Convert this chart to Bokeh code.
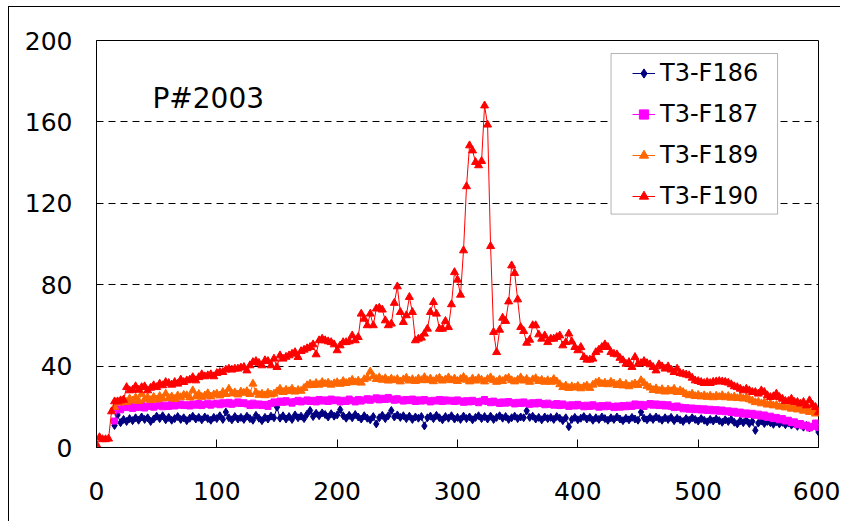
import numpy as np
from bokeh.plotting import figure
from bokeh.models import Range1d, FixedTicker, Legend, LegendItem, Label, BoxAnnotation
from bokeh.embed import file_html
from bokeh.resources import INLINE

# ---------------- data ----------------
X_START = 0.0
X_STEP = 2.5

x_ticks = [0, 100, 200, 300, 400, 500, 600]
y_ticks = [0, 40, 80, 120, 160, 200]

series_names = ["T3-F186", "T3-F187", "T3-F189", "T3-F190"]

f190 = [
    1.5, 5, 4, 4, 4.3, 17.7, 22.6, 22.6, 23.1, 23.4,
    29.6, 28, 28.3, 30, 28.3, 29.6, 30, 28, 29.3, 30.5,
    29.6, 31.3, 30.5, 32.1, 31.6, 30.8, 32.1, 31.3, 33.3, 32.1,
    32.9, 33.3, 34.5, 32.9, 34.5, 35.9, 34.9, 35.4, 35.9, 34.9,
    36.5, 37, 37, 38.2, 38.7, 38.2, 38.7, 38.7, 39.2, 39.5,
    37.8, 40.3, 41.9, 42.4, 41.5, 40.3, 42.8, 42.4, 40.3, 43.6,
    39.5, 45.2, 43.6, 44.5, 45.2, 46, 46.8, 44.4, 47.3, 48,
    48.7, 49.3, 50.6, 45.7, 52.6, 53.4, 52.6, 52.1, 51.7, 50.6,
    47.7, 50.1, 51.7, 51.7, 52.1, 55, 52.6, 54.2, 65.7, 63.2,
    60, 65.7, 60, 68.2, 68.6, 67.7, 62.4, 60, 60.8, 71,
    79.1, 66.5, 61.6, 64.9, 73.9, 66.5, 52.6, 53.4, 53.9, 55.9,
    58.3, 66.5, 71.4, 65.7, 58.3, 58.3, 62.1, 59.1, 70.3, 86.1,
    82.4, 75, 96.8, 128.3, 148.4, 145.9, 140.2, 138.6, 140.7, 168,
    158.6, 98.9, 56.7, 46.8, 57.8, 63.7, 62.1, 71.7, 89.4, 85.7,
    72.7, 59.1, 57.2, 51.4, 52.9, 60, 60, 55.5, 53.4, 55,
    51.7, 53.4, 53.4, 54.2, 55, 50.1, 51.7, 55.9, 52, 49.3,
    47.7, 49.3, 44.4, 43.1, 43.1, 43.6, 46.8, 48, 49.3, 50.6,
    49.3, 46.8, 46, 45.7, 44, 42.8, 41.1, 41.9, 39.5, 44.4,
    41.1, 41.4, 42.4, 41.4, 40.8, 39.5, 37.8, 40.8, 39.8, 38.7,
    39.8, 38.2, 37, 38.7, 36.5, 36.2, 35.8, 35.4, 34.2, 32.9,
    32.6, 32.1, 31.6, 32.1, 31.6, 32.2, 32.4, 32.6, 32.4, 32.2,
    31.8, 31, 30, 29.6, 28.8, 28, 28.8, 28, 27.2, 27.2,
    26.4, 28, 27.2, 25.6, 24.7, 25.1, 26.4, 24.7, 23.9, 22.8,
    22.8, 23.9, 22.3, 22.3, 21.5, 22.3, 20.6, 23.1, 21, 19.8,
    17.3,
]

f189 = [
    19.8, 22.5, 22, 23.5,
    22.3, 24, 23, 24.5, 22.8, 26.3, 23.6, 24.6, 23.2, 24.8,
    23.5, 25.2, 24, 26.4, 24.2, 25, 23.8, 25.5, 24.6, 25.8,
    25.6, 24.5, 28, 25, 26.2, 24.8, 25.5, 26.6, 25, 26,
    26.4, 25.5, 27.2, 26.2, 28.8, 26.5, 27, 26, 27.4, 26.8,
    27.6, 26.2, 31.3, 27, 25.8, 26.4, 25.6, 26.8, 26, 26.4,
    27.5, 28.8, 27.2, 28.3, 27.6, 28.8, 27.4, 28.2, 27.8, 29.2,
    30.5, 31.3, 30.6, 31.6, 30.8, 32.1, 31.2, 31.8, 30.8, 31.5,
    32, 31.2, 32.6, 31.6, 32.2, 33.2, 32, 32.8, 31.8, 33.5,
    34.2, 37.3, 35, 33.6, 34.4, 33.2, 34, 32.8, 33.8, 33,
    33.6, 32.4, 33.4, 34.2, 32.8, 33.5, 32.6, 33.8, 33, 34.5,
    33, 33.8, 32.5, 33.6, 34.2, 32.8, 33.4, 34.4, 33, 33.8,
    32.6, 33.6, 34.6, 33.2, 32.4, 33.8, 32.8, 34, 33.2, 32.4,
    33.6, 34.4, 33, 32.2, 33.4, 32.6, 33.8, 34.2, 33, 32.4,
    33.2, 34.4, 32.8, 33.6, 32.2, 33.4, 34, 32.6, 33.2, 32.2,
    33, 32.2, 33.6, 32.4, 31, 29.6, 30.4, 29.2, 30, 29.4,
    30.2, 29, 29.8, 30.4, 29.2, 30.8, 31.8, 32.4, 31.2, 31.8,
    31, 32.2, 31.4, 30.6, 31.8, 30.4, 31.2, 30, 30.8, 31.4,
    30.6, 33, 31.6, 30.2, 29.4, 28.2, 29, 27.8, 28.6, 27.4,
    28.4, 27.6, 28.8, 27.2, 28, 27.2, 26.2, 25.6, 26.4, 25.2,
    25.8, 25, 25.6, 24.8, 25.4, 24.6, 25.4, 24.8, 25.6, 24.6,
    25.2, 24.4, 25, 24.2, 24.8, 24, 24.6, 23.6, 23, 22.2,
    22.4, 21.6, 22.2, 21, 21.6, 20.6, 20.8, 20, 20.6, 19.6,
    20, 19, 19.6, 18.6, 19.2, 18, 18.6, 17.4, 18, 16.6,
    17.2,
]

f187 = [
    13, 19, 18.5, 20,
    19.6, 20.4, 19.2, 20, 19.6, 20.8, 19.4, 20.2, 20.6, 19.8,
    20.4, 21, 20, 20.8, 20.2, 21.2, 20.4, 20.8, 21.4, 20.6,
    21, 20.4, 21.4, 20.8, 21.6, 20.6, 21.2, 21.8, 20.8, 21.4,
    21.8, 21, 22, 21.4, 22.2, 21.2, 21.8, 22.4, 21.6, 22,
    21.4, 20.6, 21.8, 20.8, 21.4, 20.6, 21.2, 20.2, 21.6, 22.4,
    22, 22.8, 22.2, 23, 22.4, 21.8, 22.6, 23.2, 22.4, 22.8,
    23.4, 22.6, 23.2, 22.4, 23.6, 22.8, 23.4, 22.6, 23.8, 23,
    23.4, 22.4, 23.2, 22.6, 23.8, 23, 22.4, 23.6, 22.8, 23.4,
    24, 23.2, 23.8, 24.4, 23.4, 24.2, 23.6, 24.6, 23.8, 23.2,
    24, 23.4, 22.8, 23.6, 23, 23.8, 22.6, 23.4, 22.8, 23.6,
    23, 22.4, 23.2, 22.8, 23.6, 22.6, 23.4, 22.8, 23.2, 22.6,
    23.4, 22.8, 22.2, 23, 22.4, 23.2, 22.6, 22, 22.8, 23.6,
    22.6, 22, 22.8, 22.2, 21.6, 22.4, 21.8, 22.6, 22, 21.4,
    22.2, 21.6, 22.4, 21.8, 21.2, 22, 21.4, 22.2, 21.6, 21,
    21.8, 21.2, 20.8, 21.6, 20.6, 21.4, 20.8, 20.2, 21, 20.4,
    21.2, 20.6, 20, 20.8, 20.2, 21, 20.4, 19.8, 20.6, 20,
    20.8, 20.2, 19.6, 20.4, 19.8, 20.6, 20, 20.8, 20.2, 21.4,
    20.6, 21.2, 20.2, 21, 21.6, 20.8, 21.4, 20.6, 21.2, 20.4,
    21, 20.2, 19.6, 20.4, 19.8, 19, 19.6, 18.8, 19.4, 18.6,
    19.2, 18.4, 19, 18.2, 18.8, 18, 18.6, 17.8, 18.4, 17.6,
    18, 17.2, 17.8, 16.8, 17.4, 16.4, 17, 16.2, 16.8, 15.8,
    16.4, 15.4, 16, 14.8, 15.4, 14.2, 14.8, 13.6, 14.2, 13,
    13.4, 12.2, 12.6, 11.2, 11.8, 10.6, 11, 9.6, 10.4, 12,
    9.8,
]

f186 = [
    10.8, 16, 12.2, 13.8,
    12.8, 14.2, 13.2, 14.6, 13.4, 15, 13.8, 14.6, 12.8, 14,
    15.4, 14.2, 15.6, 13.6, 14.8, 13.4, 14.2, 15.2, 13.8, 14.6,
    13.2, 14.4, 15.4, 14, 14.8, 13.6, 15, 14.2, 13.4, 14.8,
    14.2, 15.6, 13.8, 17.4, 14.6, 13.6, 15.2, 14, 14.8, 13.8,
    15.4, 14.2, 13.4, 15.8, 14.4, 13.2, 14.8, 14, 15.4, 14.6,
    19.8, 14.4, 15.6, 14, 15.2, 13.8, 16, 14.6, 15.4, 14.2,
    16.4, 18.2, 15.2, 16.8, 15.6, 17, 16.2, 15, 16.6, 15.4,
    16, 18.6, 15.6, 14.4, 15.8, 14.6, 16.2, 15, 14, 15.6,
    14.4, 13.6, 15.2, 11.6, 14.6, 15.8, 14.2, 15.6, 18.2, 15,
    16, 14.8, 15.6, 14.2, 15.4, 13.8, 15, 14.4, 15.2, 10.6,
    14.6, 15.4, 14.2, 15.8, 14.6, 13.6, 15.2, 14.4, 15.6, 14,
    14.8, 13.8, 15.4, 14.2, 15, 13.6, 14.8, 15.6, 14.2, 15.2,
    14, 15.4, 13.8, 14.8, 15.6, 14.4, 15.2, 13.8, 14.6, 15.4,
    14.2, 15, 14.6, 18, 14.8, 15.4, 14, 14.8, 13.6, 15,
    14.2, 14.8, 13.8, 15.2, 14.4, 13.2, 14.6, 10.2, 13.8, 14.8,
    13.6, 14.4, 15.2, 14, 14.8, 13.4, 14.6, 13.8, 15, 14.2,
    13.4, 14.6, 13.8, 15, 14, 13.2, 14.4, 13.6, 14.8, 14,
    13.4, 17.4, 14.4, 13.6, 14.8, 13.8, 15, 14.2, 13.4, 14.6,
    13.8, 14.8, 13.2, 14.4, 13.6, 12.8, 14.2, 13.4, 14.6, 13.8,
    13, 14.2, 13.4, 12.6, 13.8, 13, 14, 13.2, 12.4, 13.6,
    12.8, 13.8, 12.4, 11.6, 13.2, 12.2, 13.4, 11.8, 12.8, 8.4,
    12, 13, 11.8, 12.8, 12.2, 11.4, 12.6, 11.6, 12.4, 11.2,
    12, 11, 11.6, 10.4, 11.2, 10, 10.8, 9.6, 10.4, 11.6,
    7.6,
]

n_all = len(f190)


def xs_for(values):
    offset = n_all - len(values)
    return [X_START + X_STEP * (offset + i) for i in range(len(values))]


# ---------------- figure ----------------
FONT = "DejaVu Sans"

# the figure sits 8px right / 6px down inside a bordered chart area
p = figure(
    width=832, height=515,
    x_range=Range1d(0, 600), y_range=Range1d(0, 200),
    output_backend="svg", toolbar_location=None,
    min_border_left=87, min_border_right=23,
    min_border_top=33, min_border_bottom=75,
    background_fill_color="white", border_fill_color="white",
)
p.margin = (6, 0, 0, 8)
p.styles = {"border-left": "1px solid black", "border-top": "1px solid black"}

p.outline_line_color = "black"
p.outline_line_width = 1

p.xgrid.visible = False
p.ygrid.ticker = FixedTicker(ticks=[40, 80, 120, 160])
p.ygrid.grid_line_color = "black"
p.ygrid.grid_line_dash = "7 5"
p.ygrid.grid_line_width = 1

p.xaxis.ticker = FixedTicker(ticks=x_ticks)
p.yaxis.ticker = FixedTicker(ticks=y_ticks)
for ax in (p.xaxis, p.yaxis):
    ax.axis_line_color = "black"
    ax.minor_tick_line_color = None
    ax.major_label_text_font = FONT
    ax.major_label_text_font_size = "25px"
    ax.major_label_text_color = "black"
p.xaxis.major_tick_in = 8
p.xaxis.major_tick_out = 0
p.xaxis.major_tick_line_color = "black"
p.xaxis.major_label_standoff = 34
p.yaxis.major_tick_in = 0
p.yaxis.major_tick_out = 0
p.yaxis.major_label_standoff = 24

styles = [
    ("T3-F186", f186, "#000080", "diamond", 8),
    ("T3-F187", f187, "#FF00FF", "square", 6),
    ("T3-F189", f189, "#FF6600", "triangle", 8),
    ("T3-F190", f190, "#FF0000", "triangle", 8),
]

items = []
for name, vals, col, mk, sz in styles:
    xs = xs_for(vals)
    lr = p.line(xs, vals, line_color=col, line_width=1)
    sr = p.scatter(xs, vals, marker=mk, size=sz, fill_color=col, line_color=col)
    items.append(LegendItem(label=name, renderers=[lr, sr]))

# legend frame
legend_box = BoxAnnotation(left=427.6, right=566.0, bottom=114.7, top=193.6,
                           fill_color="white", fill_alpha=1.0,
                           line_color="black", line_width=1)
p.add_layout(legend_box)

legend = Legend(items=items, location=(536, 236))
legend.padding = 0
legend.margin = 0
legend.spacing = 11
legend.label_height = 30
legend.glyph_height = 30
legend.glyph_width = 23
legend.label_standoff = 5
legend.border_line_alpha = 0
legend.background_fill_alpha = 0
legend.label_text_font = FONT
legend.label_text_font_size = "24px"
legend.label_text_color = "black"
p.add_layout(legend)

p.add_layout(Label(x=46.5, y=171.5, text="P#2003", text_font=FONT,
                   text_font_size="28px", text_color="black",
                   text_baseline="middle"))

open("out.html", "w").write(file_html(p, INLINE))
